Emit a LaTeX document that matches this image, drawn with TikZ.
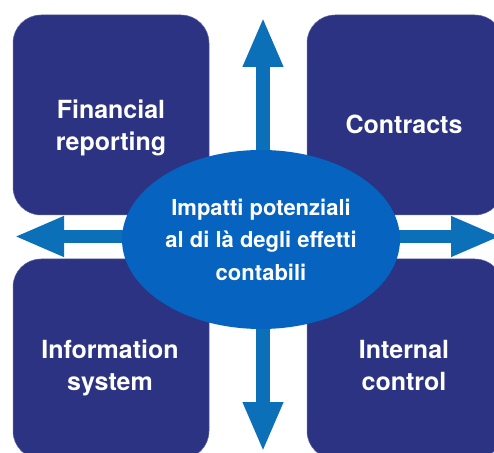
\documentclass[tikz,border=0pt]{standalone}
\usepackage{fontspec}
\setmainfont{TeX Gyre Heros}
\usetikzlibrary{arrows.meta,shapes.geometric}
\definecolor{tilenavy}{RGB}{43,51,130}
\definecolor{coreblue}{RGB}{6,99,192}
\definecolor{arrowblue}{RGB}{12,112,185}

\begin{document}
\begin{tikzpicture}[x=1pt,y=1pt,
  tile/.style={fill=tilenavy, draw=tilenavy!75!white, line width=.5pt,
    rounded corners=28pt, minimum width=196pt, minimum height=200pt},
  tiletext/.style={text=white, align=center, font=\bfseries\fontsize{25}{32}\selectfont},
  bigarrow/.style={arrowblue, line width=13.5pt, {Triangle[length=50pt,width=37pt]}-{Triangle[length=50pt,width=37pt]}}]
  \useasboundingbox (0,0) rectangle (494,452);

  % the four tiles
  \node[tile] (fin) at (111,337) {};
  \node[tile] (con) at (405,337) {};
  \node[tile] (inf) at (111,93) {};
  \node[tile] (ctl) at (405,93) {};
  \node[tiletext] (finlbl) at ([yshift=-12.5pt]fin.center) {Financial\\reporting};
  \node[tiletext] (conlbl) at ([xshift=-1pt,yshift=-9pt]con.center) {Contracts};
  \node[tiletext] (inflbl) at ([xshift=-1pt,yshift=-8.5pt]inf.center) {Information\\system};
  \node[tiletext] (ctllbl) at ([xshift=-1pt,yshift=-6pt]ctl.center) {Internal\\control};

  % arrow ends
  \coordinate (up) at (263,435);
  \coordinate (down) at (263,0);
  \coordinate (left) at (14,215.5);
  \coordinate (right) at (501,215.5);
  \draw[bigarrow] (up) -- (down);
  \draw[bigarrow] (left) -- (right);

  % centre
  \node[ellipse, fill=coreblue, minimum width=278pt, minimum height=179pt, inner sep=0pt,
    text=white, align=center, font=\bfseries\fontsize{22}{32.5}\selectfont]
    (core) at (261,212.5) {Impatti potenziali\\al di là degli effetti\\contabili};
\end{tikzpicture}
\end{document}
